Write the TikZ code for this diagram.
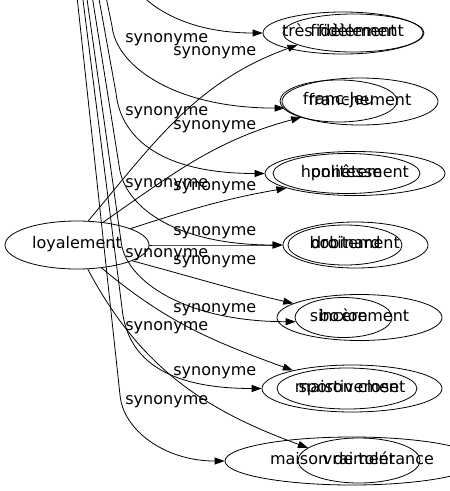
\documentclass[tikz,border=0pt]{standalone}
\usepackage{fontspec}
\setmainfont{DejaVu Sans}
\usetikzlibrary{arrows.meta,shapes.geometric}
\tikzset{basic/.style={draw,ellipse,inner xsep=-8pt,inner ysep=0pt,
                       text height=11pt,text depth=4pt,
                       font=\fontsize{16}{19}\selectfont}}
\tikzset{root/.style={basic,minimum width=144pt,minimum height=48pt}}

\begin{document}
\begin{tikzpicture}[x=1pt,y=1pt,>={Triangle[length=10pt,width=7pt]},
      line width=0.8pt,
      % styles for clarity
      word/.style ={basic},
      syn/.style  ={font=\fontsize{16}{19}\selectfont, anchor=west, inner sep=0pt}
    ]
    \useasboundingbox (0,0) rectangle (450,-491);
    \clip (0,0) rectangle (450,-491);

    \node[root] (root) at (77,-245) {loyalement};
    % the second root sits above the picture
    \coordinate (g1) at (45,300);

    % target words, two ellipses at each place
    \foreach \n/\x/\y/\w/\h/\t in {p1a/343/-33/160/42/très fidèlement,
        p1b/353.5/-33/141/38/fidèlement,
        p2a/360/-101.5/156/47/franchement,
        p2b/338.5/-101/117/42/franc-jeu,
        p3a/355/-173.5/180/44/honnêtement,
        p3b/346.5/-173.5/147/40/politesse,
        p4a/355.5/-245/145/46/droitement,
        p4b/345/-245/114/40/bobinard,
        p5a/359.5/-317.5/165/46/sincèrement,
        p5b/343.5/-317.5/97/40/boxon,
        p6a/352/-388.5/180/47/sportivement,
        p6b/347/-388.5/140/41/maison close,
        p7a/352/-461/254/48/maison de tolérance,
        p7b/359/-460.5/122/45/vraiment}{
      \node[word, minimum width=\w pt, minimum height=\h pt] (\n) at (\x,\y) {\t};
    }

    % edge labels
    \foreach \y in {40,113,185,255,328,402}
      \node[syn] (sa\y) at (125,-\y) {synonyme};
    \foreach \y in {53,127,188,233,262,310,373}
      \node[syn] (sb\y) at (173,-\y) {synonyme};

    % edges coming down from the upper root
    \foreach \t/\sx/\sy/\cx/\cy/\dx in {p1a.180/118/50/8/-50/-83,
        p2a.185/112/-26/4/-40/-110,
        p3a.180/116/-93/4/-40/-110,
        p4a.180/119/-165/4/-40/-110,
        p5b.185/121/-241/4/-40/-110,
        p6a.180/122/-308/4/-40/-110,
        p7a.180/120/-395/3/-35/-60}
      \draw[->] (g1) -- (\sx,\sy) .. controls +(\cx,\cy) and +(\dx,0) .. (\t);

    % edges fanning out of loyalement
    \foreach \a/\t/\o/\i in {65/p1b.192/50/200, 41/p2a.195/35/195,
        17/p3a.192/18/190, 0/p4a.180/0/180, -16/p5a.168/-15/167,
        -43/p6a.163/-40/160, -66/p7b.166/-62/160}
      \draw[->] (root.\a) to[out=\o,in=\i] (\t);
\end{tikzpicture}
\end{document}
